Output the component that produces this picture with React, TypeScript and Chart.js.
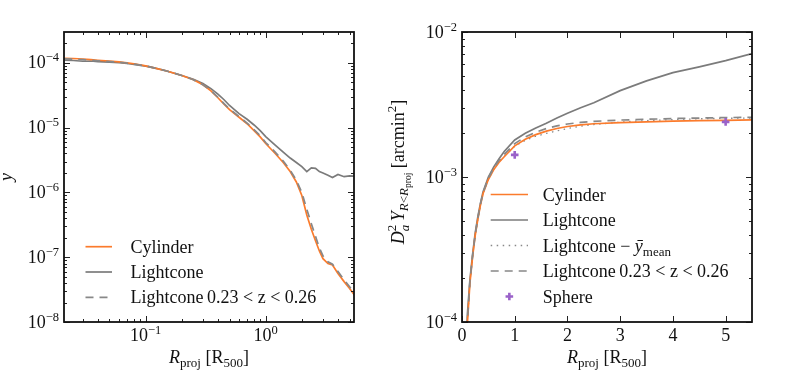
import React, { useEffect, useRef } from 'react';
import { Chart, registerables } from 'chart.js';
Chart.register(...registerables);

// ---------- Left panel: y profile ----------
const profileR = [0.021, 0.025, 0.03, 0.035, 0.04, 0.05, 0.06, 0.07, 0.08, 0.1, 0.12, 0.15, 0.2, 0.25, 0.3, 0.35, 0.4, 0.45, 0.5, 0.6, 0.7, 0.8, 0.9, 1.0, 1.2, 1.4, 1.6, 1.8, 2.0, 2.2, 2.4, 2.6, 2.8, 3.0, 3.3, 3.6, 4.0, 4.5, 5.0, 5.5];
const yCylinder = [1.18e-4, 1.17e-4, 1.15e-4, 1.12e-4, 1.10e-4, 1.07e-4, 1.04e-4, 1.0e-4, 0.97e-4, 0.9e-4, 0.83e-4, 0.75e-4, 0.64e-4, 0.55e-4, 0.46e-4, 0.37e-4, 0.29e-4, 0.23e-4, 0.19e-4, 1.45e-5, 1.15e-5, 0.9e-5, 0.72e-5, 5.7e-6, 4.0e-6, 2.9e-6, 2.1e-6, 1.45e-6, 0.9e-6, 4.5e-7, 2.7e-7, 1.8e-7, 1.25e-7, 9.5e-8, 8.0e-8, 7.6e-8, 5.6e-8, 4.2e-8, 3.3e-8, 2.6e-8];
const yLightcone = [1.10e-4, 1.09e-4, 1.06e-4, 1.07e-4, 1.05e-4, 1.03e-4, 1.01e-4, 0.98e-4, 0.95e-4, 0.89e-4, 0.83e-4, 0.75e-4, 0.64e-4, 0.56e-4, 0.48e-4, 0.40e-4, 0.33e-4, 0.27e-4, 0.22e-4, 1.65e-5, 1.35e-5, 1.1e-5, 0.9e-5, 7.3e-6, 5.4e-6, 4.2e-6, 3.4e-6, 2.9e-6, 2.5e-6, 2.1e-6, 2.4e-6, 2.35e-6, 2.1e-6, 2.0e-6, 1.85e-6, 1.7e-6, 1.9e-6, 1.75e-6, 1.8e-6, 1.78e-6];
const yLightconeZ = [1.15e-4, 1.14e-4, 1.12e-4, 1.1e-4, 1.08e-4, 1.05e-4, 1.03e-4, 0.99e-4, 0.96e-4, 0.9e-4, 0.83e-4, 0.75e-4, 0.64e-4, 0.55e-4, 0.46e-4, 0.375e-4, 0.295e-4, 0.235e-4, 0.195e-4, 1.48e-5, 1.18e-5, 0.93e-5, 0.75e-5, 5.9e-6, 4.2e-6, 3.05e-6, 2.2e-6, 1.55e-6, 1.0e-6, 5.5e-7, 3.3e-7, 2.1e-7, 1.4e-7, 1.05e-7, 8.5e-8, 7.8e-8, 6.0e-8, 4.5e-8, 3.5e-8, 2.8e-8];

const leftXMajors = [0.1, 1];
const leftYMajors = [1e-8, 1e-7, 1e-6, 1e-5, 1e-4];

// ---------- Right panel: cumulative Y ----------
const cumR = [0.08, 0.1, 0.15, 0.2, 0.25, 0.3, 0.35, 0.4, 0.5, 0.6, 0.7, 0.8, 1.0, 1.2, 1.4, 1.6, 1.8, 2.0, 2.25, 2.5, 3.0, 3.5, 4.0, 4.5, 5.0, 5.5];
const YCylinder = [5.5e-5, 0.95e-4, 1.85e-4, 2.8e-4, 3.95e-4, 5.1e-4, 6.4e-4, 7.7e-4, 9.6e-4, 1.12e-3, 1.26e-3, 1.38e-3, 1.64e-3, 1.82e-3, 1.96e-3, 2.07e-3, 2.16e-3, 2.23e-3, 2.29e-3, 2.33e-3, 2.37e-3, 2.4e-3, 2.43e-3, 2.45e-3, 2.46e-3, 2.48e-3];
const YLightcone = [6e-5, 1.1e-4, 1.95e-4, 2.9e-4, 4.1e-4, 5.3e-4, 6.6e-4, 7.9e-4, 1.0e-3, 1.17e-3, 1.33e-3, 1.5e-3, 1.8e-3, 2.0e-3, 2.18e-3, 2.35e-3, 2.55e-3, 2.75e-3, 3.0e-3, 3.25e-3, 3.94e-3, 4.6e-3, 5.25e-3, 5.75e-3, 6.35e-3, 7.1e-3];
const YLightconeSub = [5.6e-5, 0.96e-4, 1.87e-4, 2.8e-4, 3.95e-4, 5.1e-4, 6.4e-4, 7.7e-4, 9.6e-4, 1.13e-3, 1.27e-3, 1.39e-3, 1.63e-3, 1.79e-3, 1.91e-3, 2.0e-3, 2.08e-3, 2.16e-3, 2.24e-3, 2.3e-3, 2.39e-3, 2.45e-3, 2.49e-3, 2.52e-3, 2.54e-3, 2.55e-3];
const YLightconeZ = [5.7e-5, 0.98e-4, 1.9e-4, 2.85e-4, 4.0e-4, 5.2e-4, 6.5e-4, 7.8e-4, 9.8e-4, 1.15e-3, 1.3e-3, 1.43e-3, 1.7e-3, 1.89e-3, 2.04e-3, 2.16e-3, 2.25e-3, 2.32e-3, 2.38e-3, 2.42e-3, 2.47e-3, 2.5e-3, 2.53e-3, 2.55e-3, 2.57e-3, 2.58e-3];
const sphereR = [1, 5];
const sphereY = [1.42e-3, 2.4e-3];

const rightXMajors = [0, 1, 2, 3, 4, 5];
const rightYMajors = [1e-4, 1e-3, 1e-2];

// ---------- styles ----------
const ORANGE = '#fb7b2c';
const GRAY = '#7b7b7b';
const GRAY2 = '#888888';
const PURPLE = '#9a62c9';
const SERIF = '"Liberation Serif", "DejaVu Serif", serif';

type Run = { t: string; s?: number; i?: boolean; dy?: number; stack?: boolean };

function fontOf(r: Run) {
  return `${r.i ? 'italic ' : ''}${r.s ?? 18}px ${SERIF}`;
}

function drawRuns(ctx: CanvasRenderingContext2D, runs: Run[], x: number, y: number, align: 'left' | 'center' | 'right') {
  const items: { r: Run; x: number }[] = [];
  let cursor = 0;
  let lastStart = 0;
  for (const r of runs) {
    ctx.font = fontOf(r);
    const w = ctx.measureText(r.t).width;
    const start = r.stack ? lastStart : cursor;
    items.push({ r, x: start });
    if (r.stack) cursor = Math.max(cursor, start + w);
    else {
      lastStart = start;
      cursor = start + w;
    }
  }
  const off = align === 'left' ? 0 : align === 'center' ? -cursor / 2 : -cursor;
  ctx.textAlign = 'left';
  ctx.textBaseline = 'alphabetic';
  for (const it of items) {
    ctx.font = fontOf(it.r);
    ctx.fillText(it.r.t, x + off + it.x, y + (it.r.dy ?? 0));
  }
}

function powRuns(v: number): Run[] {
  const e = Math.round(Math.log10(v));
  return [{ t: '10' }, { t: (e < 0 ? '\u2212' : '') + Math.abs(e), s: 12.5, dy: -7 }];
}

function logMinors(min: number, max: number) {
  const out: number[] = [];
  for (let k = Math.floor(Math.log10(min)); k <= Math.ceil(Math.log10(max)); k++) {
    for (let m = 2; m <= 9; m++) {
      const v = m * Math.pow(10, k);
      if (v >= min && v <= max) out.push(v);
    }
  }
  return out;
}

type LegendItem = { label: Run[]; ds: number; marker?: boolean };
type Panel = {
  xLog: boolean;
  xMajors: number[];
  yMajors: number[];
  xTitle: Run[];
  yTitle: Run[];
  yTitleX: number;
  yTitleY: number;
  legend: LegendItem[];
  legX0: number;
  legX1: number;
  legTextX: number;
  legY0: number;
  legDY: number;
};

function makePlugin(cfg: Panel) {
  return {
    id: 'panelDeco',
    afterDatasetsDraw(chart: any) {
      const { ctx, chartArea: a, scales } = chart;
      const xs = scales.x;
      const ys = scales.y;
      ctx.save();
      ctx.strokeStyle = '#222';
      ctx.lineWidth = 1;
      const tick = (px: number, len: number, vertical: boolean) => {
        const p = Math.round(px) + 0.5;
        ctx.beginPath();
        if (vertical) {
          ctx.moveTo(p, a.bottom);
          ctx.lineTo(p, a.bottom - len);
          ctx.moveTo(p, a.top);
          ctx.lineTo(p, a.top + len);
        } else {
          ctx.moveTo(a.left, p);
          ctx.lineTo(a.left + len, p);
          ctx.moveTo(a.right, p);
          ctx.lineTo(a.right - len, p);
        }
        ctx.stroke();
      };
      if (cfg.xLog) for (const v of logMinors(xs.min, xs.max)) tick(xs.getPixelForValue(v), 3, true);
      for (const v of cfg.xMajors) tick(xs.getPixelForValue(v), 6, true);
      for (const v of logMinors(ys.min, ys.max)) tick(ys.getPixelForValue(v), 3, false);
      for (const v of cfg.yMajors) tick(ys.getPixelForValue(v), 6, false);

      // frame
      ctx.strokeStyle = '#111';
      ctx.lineWidth = 1.8;
      ctx.strokeRect(a.left, a.top, a.right - a.left, a.bottom - a.top);

      // tick labels
      ctx.fillStyle = '#111';
      for (const v of cfg.xMajors) {
        const runs = cfg.xLog ? powRuns(v) : [{ t: String(v) }];
        drawRuns(ctx, runs, xs.getPixelForValue(v), a.bottom + 19, 'center');
      }
      for (const v of cfg.yMajors) {
        drawRuns(ctx, powRuns(v), a.left - 5, ys.getPixelForValue(v) + 5.5, 'right');
      }

      // axis titles
      drawRuns(ctx, cfg.xTitle, (a.left + a.right) / 2, a.bottom + 41, 'center');
      ctx.save();
      ctx.translate(cfg.yTitleX, cfg.yTitleY);
      ctx.rotate(-Math.PI / 2);
      drawRuns(ctx, cfg.yTitle, 0, 0, 'center');
      ctx.restore();

      // legend
      cfg.legend.forEach((item, i) => {
        const y = cfg.legY0 + i * cfg.legDY;
        const ds = chart.data.datasets[item.ds];
        if (item.marker) {
          const cx = (cfg.legX0 + cfg.legX1) / 2;
          ctx.strokeStyle = ds.borderColor;
          ctx.lineWidth = ds.borderWidth;
          ctx.setLineDash([]);
          const r = ds.pointRadius;
          ctx.beginPath();
          ctx.moveTo(cx - r, y);
          ctx.lineTo(cx + r, y);
          ctx.moveTo(cx, y - r);
          ctx.lineTo(cx, y + r);
          ctx.stroke();
        } else {
          ctx.strokeStyle = ds.borderColor;
          ctx.lineWidth = ds.borderWidth;
          ctx.setLineDash(ds.borderDash || []);
          ctx.beginPath();
          ctx.moveTo(cfg.legX0, y);
          ctx.lineTo(cfg.legX1, y);
          ctx.stroke();
          ctx.setLineDash([]);
        }
        ctx.fillStyle = '#111';
        drawRuns(ctx, item.label, cfg.legTextX, y + 6, 'left');
      });
      ctx.restore();
    },
  };
}

const pts = (xs: number[], ys: number[]) => xs.map((x, i) => ({ x, y: ys[i] }));

const rTitle: Run[] = [
  { t: 'R', i: true },
  { t: 'proj', s: 13, dy: 4 },
  { t: ' [R' },
  { t: '500', s: 13, dy: 4 },
  { t: ']' },
];

const LW = 1.7;
const DASH = [8, 6];
const DOT = [1.5, 4.5];

export default function App() {
  const leftRef = useRef<HTMLCanvasElement>(null);
  const rightRef = useRef<HTMLCanvasElement>(null);

  useEffect(() => {
    const common = {
      type: 'line' as const,
    };
    const left = new Chart(leftRef.current!, {
      ...common,
      data: {
        datasets: [
          { label: 'Cylinder', data: pts(profileR, yCylinder), borderColor: ORANGE, borderWidth: LW, pointRadius: 0, order: 1, clip: 0 },
          { label: 'Lightcone', data: pts(profileR, yLightcone), borderColor: GRAY, borderWidth: LW, pointRadius: 0, order: 2, clip: 0 },
          { label: 'Lightcone 0.23 < z < 0.26', data: pts(profileR, yLightconeZ), borderColor: GRAY2, borderWidth: LW, borderDash: DASH, pointRadius: 0, order: 0, clip: 0 },
        ],
      },
      options: {
        responsive: false,
        animation: false,
        events: [],
        layout: { padding: { left: 64, right: 26, top: 32, bottom: 54 } },
        plugins: { legend: { display: false }, tooltip: { enabled: false } },
        scales: {
          x: { type: 'logarithmic', min: 0.0209, max: 5.44, display: false },
          y: { type: 'logarithmic', min: 1e-8, max: 3e-4, display: false },
        },
      } as any,
      plugins: [
        makePlugin({
          xLog: true,
          xMajors: leftXMajors,
          yMajors: leftYMajors,
          xTitle: rTitle,
          yTitle: [{ t: 'y', i: true }],
          yTitleX: 12,
          yTitleY: 177,
          legend: [
            { label: [{ t: 'Cylinder' }], ds: 0 },
            { label: [{ t: 'Lightcone' }], ds: 1 },
            { label: [{ t: 'Lightcone\u20090.23 < z < 0.26' }], ds: 2 },
          ],
          legX0: 85.5,
          legX1: 112,
          legTextX: 130.5,
          legY0: 246.7,
          legDY: 25.3,
        }),
      ],
    } as any);

    const right = new Chart(rightRef.current!, {
      ...common,
      data: {
        datasets: [
          { label: 'Cylinder', data: pts(cumR, YCylinder), borderColor: ORANGE, borderWidth: LW, pointRadius: 0, order: 2, clip: 0 },
          { label: 'Lightcone', data: pts(cumR, YLightcone), borderColor: GRAY, borderWidth: LW, pointRadius: 0, order: 3, clip: 0 },
          { label: 'Lightcone - ymean', data: pts(cumR, YLightconeSub), borderColor: GRAY2, borderWidth: 1.3, borderDash: DOT, pointRadius: 0, order: 4, clip: 0 },
          { label: 'Lightcone 0.23 < z < 0.26', data: pts(cumR, YLightconeZ), borderColor: GRAY2, borderWidth: LW, borderDash: DASH, pointRadius: 0, order: 1, clip: 0 },
          { label: 'Sphere', data: pts(sphereR, sphereY), borderColor: PURPLE, backgroundColor: PURPLE, borderWidth: 2.6, showLine: false, pointStyle: 'cross', pointRadius: 3.8, order: 0 },
        ],
      },
      options: {
        responsive: false,
        animation: false,
        events: [],
        layout: { padding: { left: 82, right: 54, top: 32, bottom: 54 } },
        plugins: { legend: { display: false }, tooltip: { enabled: false } },
        scales: {
          x: { type: 'linear', min: 0, max: 5.5, display: false },
          y: { type: 'logarithmic', min: 1e-4, max: 1e-2, display: false },
        },
      } as any,
      plugins: [
        makePlugin({
          xLog: false,
          xMajors: rightXMajors,
          yMajors: rightYMajors,
          xTitle: rTitle,
          yTitle: [
            { t: 'D', i: true },
            { t: 'a', i: true, s: 13, dy: 5 },
            { t: '2', s: 13, dy: -8, stack: true },
            { t: '\u2009' },
            { t: 'Y', i: true },
            { t: 'R', i: true, s: 13, dy: 4 },
            { t: '<', s: 13, dy: 4 },
            { t: 'R', i: true, s: 13, dy: 4 },
            { t: 'proj', s: 9.5, dy: 7 },
            { t: ' [arcmin' },
            { t: '2', s: 13, dy: -8 },
            { t: ']' },
          ],
          yTitleX: 24,
          yTitleY: 172,
          legend: [
            { label: [{ t: 'Cylinder' }], ds: 0 },
            { label: [{ t: 'Lightcone' }], ds: 1 },
            {
              label: [
                { t: 'Lightcone \u2212 ' },
                { t: 'y\u0304', i: true },
                { t: 'mean', s: 13, dy: 4 },
              ],
              ds: 2,
            },
            { label: [{ t: 'Lightcone\u20090.23 < z < 0.26' }], ds: 3 },
            { label: [{ t: 'Sphere' }], ds: 4, marker: true },
          ],
          legX0: 110.7,
          legX1: 148,
          legTextX: 162.7,
          legY0: 194.5,
          legDY: 25.5,
        }),
      ],
    } as any);

    return () => {
      left.destroy();
      right.destroy();
    };
  }, []);

  return (
    <div style={{ position: 'fixed', left: 0, top: 0, width: 806, height: 376, background: '#fff' }}>
      <canvas ref={leftRef} width={380} height={376} style={{ position: 'absolute', left: 0, top: 0, width: 380, height: 376 }} />
      <canvas ref={rightRef} width={426} height={376} style={{ position: 'absolute', left: 380, top: 0, width: 426, height: 376 }} />
    </div>
  );
}
